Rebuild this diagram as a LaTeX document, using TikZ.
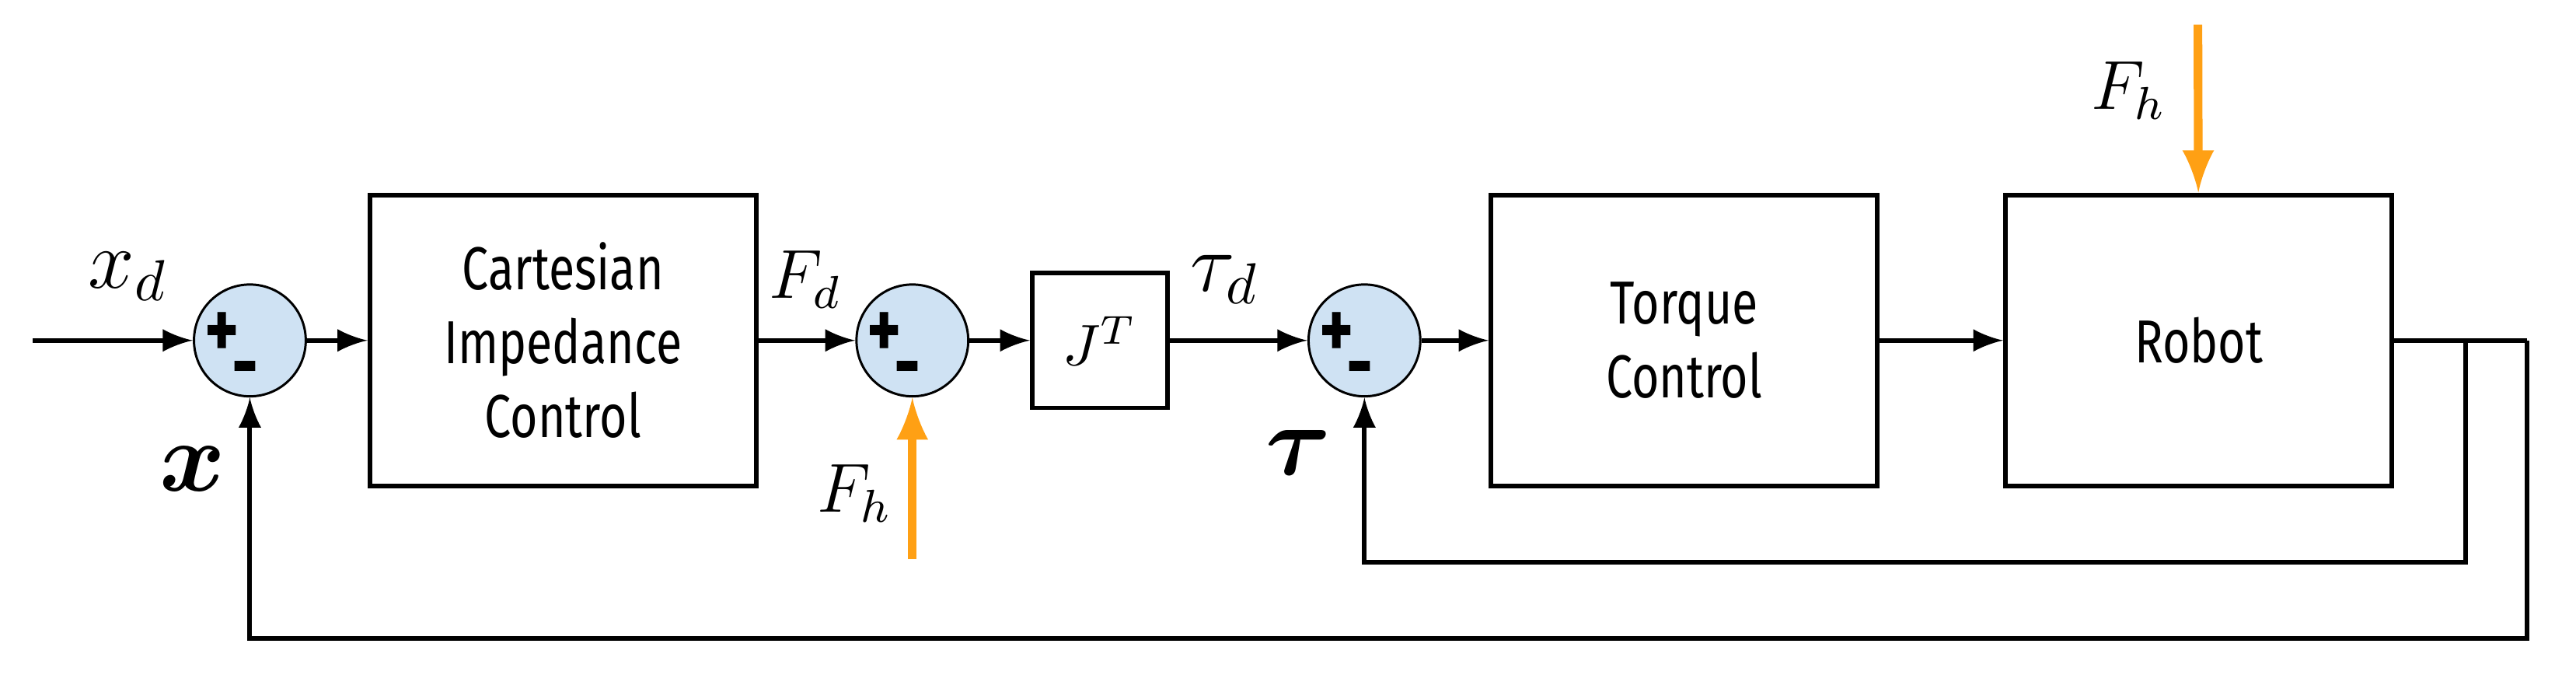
\documentclass[tikz,border=0pt]{standalone}
\usepackage{fontspec}
\usepackage{amsmath}
\usepackage{bm}
\setmainfont{Fira Sans}[FakeStretch=0.78]
\usetikzlibrary{arrows}
\usetikzlibrary{positioning}
\usetikzlibrary{calc}
\definecolor{sumblue}{RGB}{207,226,243}
\definecolor{forceorange}{RGB}{255,160,20}
\begin{document}
\begin{tikzpicture}[->,>=latex,thick,x=1cm,y=1cm,
    sum node/.style={circle,draw,thin,fill=sumblue,minimum size=0.68cm,inner sep=0pt},
    blk node/.style={draw,thick,minimum width=2.35cm,minimum height=1.77cm,align=center,
      font=\fontsize{10.5}{12.8}\selectfont},
    lbl node/.style={font=\Large},
    force/.style={->,>=latex,line width=1.5pt,draw=forceorange}
    ]
    \useasboundingbox (0,0) rectangle (15.67,4.1);

    \node[sum node](s1) at (1.52,2.03){};
    \node[blk node](cic) at (3.425,2.03){Cartesian\\Impedance\\Control};
    \node[sum node](s2) at (5.55,2.03){};
    \node[draw,thick,minimum width=0.82cm,minimum height=0.82cm](jt) at (6.69,2.03){$J^T$};
    \node[sum node](s3) at (8.30,2.03){};
    \node[blk node](tc) at (10.245,2.03){Torque\\Control};
    \node[blk node](rob) at (13.375,2.03){Robot};

    % signs
    \foreach \s in {s1,s2,s3}{
      \node[font=\Large\bfseries,inner sep=0pt] at ($(\s)+(-0.17,0.03)$){+};
      \node[font=\Large\bfseries,inner sep=0pt] at ($(\s)+(-0.03,-0.22)$){-};
    }

    \coordinate(in) at (0.20,2.03);
    \coordinate(fh1) at (5.55,0.70);
    \coordinate(fh2) at (13.37,3.95);
    \coordinate(ti) at (15.00,2.03);
    \coordinate(to) at (15.37,2.03);
    \coordinate(tib) at (15.00,0.68);
    \coordinate(tob) at (15.37,0.22);

    \path
    (in) edge (s1)
    (s1) edge (cic)
    (cic) edge (s2)
    (s2) edge (jt)
    (jt) edge (s3)
    (s3) edge (tc)
    (tc) edge (rob);

    \draw[-] (rob) -- (to);
    \draw (to) -- (tob) -| (s1);
    \draw (ti) -- (tib) -| (s3);
    \draw[force] (fh1) -- (s2);
    \draw[force] (fh2) -- (rob);

    \node[lbl node] at (0.78,2.42){$x_d$};
    \node[lbl node,font=\LARGE] at (1.17,1.25){$\bm{x}$};
    \node[font=\large] at (4.90,2.40){$F_d$};
    \node[font=\large] at (5.20,1.10){$F_h$};
    \node[lbl node] at (7.45,2.40){$\tau_d$};
    \node[lbl node,font=\LARGE] at (7.90,1.35){$\bm{\tau}$};
    \node[font=\large] at (12.95,3.55){$F_h$};
\end{tikzpicture}
\end{document}
